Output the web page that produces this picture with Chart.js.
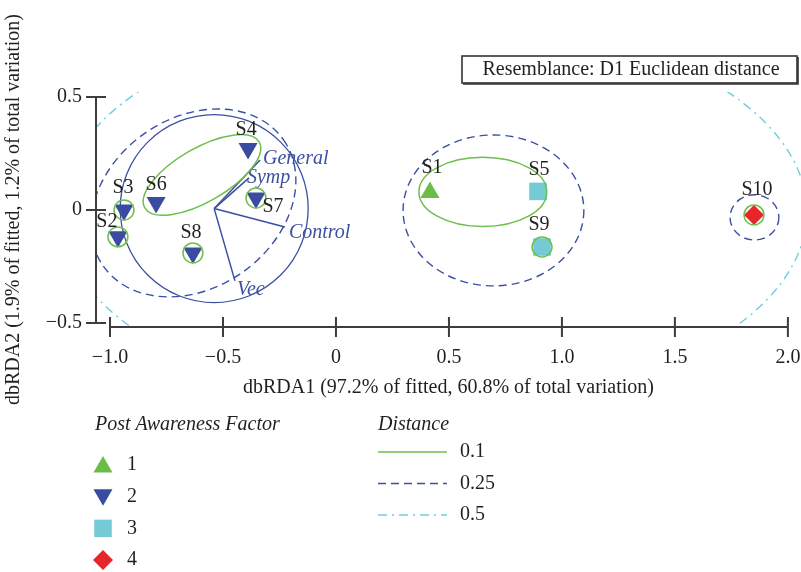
<!DOCTYPE html>
<html>
<head>
<meta charset="utf-8">
<script src="https://cdn.jsdelivr.net/npm/chart.js@4.4.0/dist/chart.umd.min.js"></script>
<style>
  html, body { margin: 0; padding: 0; background: #fff; }
  #wrap { width: 801px; height: 572px; }
</style>
</head>
<body>
<div id="wrap"><canvas id="rdaChart" width="801" height="572"></canvas></div>
<script>
// sample scores (dbRDA1, dbRDA2) and their post awareness factor level
let sampleNames = ['S1', 'S2', 'S3', 'S4', 'S5', 'S6', 'S7', 'S8', 'S9', 'S10'];
let dbRDA1 = [0.416, -0.965, -0.938, -0.389, 0.894, -0.796, -0.354, -0.633, 0.912, 1.850];
let dbRDA2 = [0.077, -0.119, 0.000, 0.272, 0.082, 0.033, 0.053, -0.190, -0.164, -0.022];
let awareness = ['1', '2', '2', '2', '3', '2', '2', '2', '3', '4'];
let factorLevels = ['1', '2', '3', '4'];

// predictor vectors, drawn from the centre of the correlation circle
let vectorNames = ['General', 'Symp', 'Control', 'Vec'];
let vectorX = [-0.336, -0.385, -0.226, -0.447];
let vectorY = [0.221, 0.142, -0.075, -0.314];
let vectorOrigin = [-0.539, 0.006];
let circleRadius = 0.416;

// distance contours (cluster overlays)
let distanceLevels = ['0.1', '0.25', '0.5'];
let contourLevel = ['0.1', '0.1', '0.25', '0.25', '0.25', '0.5'];
let contourX = [-0.593, 0.650, -0.631, 0.697, 1.852, 0.429];
let contourY = [0.155, 0.080, 0.031, -0.002, -0.033, -0.009];
let contourRX = [0.292, 0.283, 0.487, 0.400, 0.108, 1.655];
let contourRY = [0.119, 0.153, 0.376, 0.334, 0.100, 0.863];
let contourTilt = [30, 0, 35, 0, 0, 0];
let singleSamples = ['S2', 'S3', 'S7', 'S8', 'S9', 'S10'];
let singleRadius = 0.044;

let xTitle = 'dbRDA1 (97.2% of fitted, 60.8% of total variation)';
let yTitle = 'dbRDA2 (1.9% of fitted, 1.2% of total variation)';
let boxTitle = 'Resemblance: D1 Euclidean distance';

const FONT = "'Liberation Serif', 'Times New Roman', serif";
const INK = '#231f20';
const BLUE = '#3b50a3';

const markerStyle = {
    '1': { shape: 'triangle', rotation: 0, radius: 11, color: '#6bbd46' },
    '2': { shape: 'triangle', rotation: 180, radius: 11, color: '#3a4c9f' },
    '3': { shape: 'rect', rotation: 0, radius: 12.4, color: '#74cbd6' },
    '4': { shape: 'rectRot', rotation: 0, radius: 10, color: '#e8262a' }
};

const levelStyle = {
    '0.1': { color: '#6dbf4b', dash: [], width: 1.5 },
    '0.25': { color: '#3b50a3', dash: [8, 5], width: 1.4 },
    '0.5': { color: '#6fcfdc', dash: [9, 5, 2, 5], width: 1.4 }
};

// where each sample name sits relative to its marker (px)
const labelOffset = {
    S1: [2, -25], S2: [-11, -15], S3: [-1, -22], S4: [-2, -19], S5: [1, -22],
    S6: [0, -18], S7: [17, 9], S8: [-2, -20], S9: [-3, -22], S10: [3, -25]
};
const vectorLabelOffset = [[3, -1], [-2, 0], [4, 6], [2, 9]];

function fmtTick(v) {
    if (Math.abs(v) < 1e-9) return '0';
    return v.toFixed(1).replace('-', '\u2212');
}

function markerPoint(ctx, level, x, y) {
    const st = markerStyle[level];
    ctx.fillStyle = st.color;
    Chart.helpers.drawPoint(ctx, { pointStyle: st.shape, rotation: st.rotation, radius: st.radius, borderWidth: 0 }, x, y);
}

function strokeEllipse(ctx, xs, ys, cx, cy, rx, ry, tilt) {
    const px = xs.getPixelForValue(cx);
    const py = ys.getPixelForValue(cy);
    const prx = Math.abs(xs.getPixelForValue(cx + rx) - px);
    const pry = Math.abs(ys.getPixelForValue(cy + ry) - py);
    ctx.beginPath();
    ctx.ellipse(px, py, prx, pry, -tilt * Math.PI / 180, 0, Math.PI * 2);
    ctx.stroke();
}

function setLevel(ctx, level) {
    const st = levelStyle[level];
    ctx.strokeStyle = st.color;
    ctx.lineWidth = st.width;
    ctx.setLineDash(st.dash);
}

const overlays = {
    id: 'overlays',
    afterDatasetsDraw(chart) {
        const ctx = chart.ctx;
        const xs = chart.scales.x, ys = chart.scales.y;
        const area = chart.chartArea;
        ctx.save();
        ctx.beginPath();
        ctx.rect(area.left, area.top, area.right - area.left, area.bottom - area.top);
        ctx.clip();

        // correlation circle and vectors
        ctx.strokeStyle = BLUE;
        ctx.lineWidth = 1.3;
        ctx.setLineDash([]);
        strokeEllipse(ctx, xs, ys, vectorOrigin[0], vectorOrigin[1], circleRadius, circleRadius, 0);
        const ox = xs.getPixelForValue(vectorOrigin[0]);
        const oy = ys.getPixelForValue(vectorOrigin[1]);
        ctx.lineWidth = 1.5;
        ctx.font = 'italic 20px ' + FONT;
        ctx.fillStyle = BLUE;
        ctx.textAlign = 'left';
        ctx.textBaseline = 'middle';
        vectorNames.forEach((name, i) => {
            const ex = xs.getPixelForValue(vectorX[i]);
            const ey = ys.getPixelForValue(vectorY[i]);
            ctx.beginPath();
            ctx.moveTo(ox, oy);
            ctx.lineTo(ex, ey);
            ctx.stroke();
            ctx.fillText(name, ex + vectorLabelOffset[i][0], ey + vectorLabelOffset[i][1]);
        });

        // contours
        contourLevel.forEach((level, i) => {
            setLevel(ctx, level);
            strokeEllipse(ctx, xs, ys, contourX[i], contourY[i], contourRX[i], contourRY[i], contourTilt[i]);
        });
        setLevel(ctx, '0.1');
        singleSamples.forEach(name => {
            const i = sampleNames.indexOf(name);
            strokeEllipse(ctx, xs, ys, dbRDA1[i], dbRDA2[i], singleRadius, singleRadius, 0);
        });
        ctx.setLineDash([]);

        // sample names
        ctx.font = '20px ' + FONT;
        ctx.fillStyle = INK;
        ctx.textAlign = 'center';
        sampleNames.forEach((name, i) => {
            const off = labelOffset[name];
            ctx.fillText(name, xs.getPixelForValue(dbRDA1[i]) + off[0], ys.getPixelForValue(dbRDA2[i]) + off[1]);
        });
        ctx.restore();
    },
    afterDraw(chart) {
        const ctx = chart.ctx;
        const xs = chart.scales.x, ys = chart.scales.y;
        const area = chart.chartArea;
        ctx.save();

        // offset axis lines with crossing ticks
        ctx.strokeStyle = '#3d3d3d';
        ctx.lineWidth = 2;
        const yt = ys.ticks.map(t => ys.getPixelForValue(t.value));
        const xt = xs.ticks.map(t => xs.getPixelForValue(t.value));
        ctx.beginPath();
        ctx.moveTo(area.left, Math.min(...yt));
        ctx.lineTo(area.left, Math.max(...yt));
        yt.forEach(p => { ctx.moveTo(area.left - 10, p); ctx.lineTo(area.left + 10, p); });
        ctx.moveTo(Math.min(...xt), area.bottom);
        ctx.lineTo(Math.max(...xt), area.bottom);
        xt.forEach(p => { ctx.moveTo(p, area.bottom - 10); ctx.lineTo(p, area.bottom + 10); });
        ctx.stroke();

        // resemblance box
        ctx.lineWidth = 1.6;
        ctx.strokeStyle = '#333';
        ctx.strokeRect(462, 56, 335, 27);
        ctx.beginPath();
        ctx.moveTo(463, 84);
        ctx.lineTo(798, 84);
        ctx.lineTo(798, 57);
        ctx.stroke();
        ctx.font = '20px ' + FONT;
        ctx.fillStyle = INK;
        ctx.textAlign = 'center';
        ctx.textBaseline = 'middle';
        ctx.fillText(boxTitle, 631, 70);

        // legend: factor markers
        ctx.textAlign = 'left';
        ctx.font = 'italic 20px ' + FONT;
        ctx.fillText('Post Awareness Factor', 95, 425);
        ctx.fillText('Distance', 378, 425);
        ctx.font = '20px ' + FONT;
        factorLevels.forEach((level, i) => {
            const y = 465 + i * 31.7;
            markerPoint(ctx, level, 103, level === '1' ? y + 2 : (level === '2' ? y - 2 : y));
            ctx.fillStyle = INK;
            ctx.fillText(level, 127, y);
        });
        // legend: distance lines
        distanceLevels.forEach((level, i) => {
            const y = 452 + i * 31.5;
            setLevel(ctx, level);
            ctx.beginPath();
            ctx.moveTo(378, y);
            ctx.lineTo(447, y);
            ctx.stroke();
            ctx.fillStyle = INK;
            ctx.fillText(level, 460, y);
        });
        ctx.restore();
    }
};

const datasets = factorLevels.map(level => {
    const st = markerStyle[level];
    const idx = sampleNames.map((n, i) => i).filter(i => awareness[i] === level);
    return {
        label: level,
        data: idx.map(i => ({ x: dbRDA1[i], y: dbRDA2[i] })),
        pointStyle: st.shape,
        pointRotation: st.rotation,
        pointRadius: st.radius,
        pointHoverRadius: st.radius,
        backgroundColor: st.color,
        borderColor: st.color,
        pointBorderWidth: 0,
        clip: false
    };
});

Chart.defaults.font.family = FONT;
Chart.defaults.font.size = 20;
Chart.defaults.color = INK;

new Chart(document.getElementById('rdaChart'), {
    type: 'scatter',
    data: { datasets },
    options: {
        responsive: false,
        animation: false,
        devicePixelRatio: 1,
        // no auto padding for the big markers, so the plot runs to the right edge
        layout: { autoPadding: false, padding: { top: 92, left: 0, right: 0, bottom: 172 } },
        plugins: { legend: { display: false }, tooltip: { enabled: false } },
        scales: {
            x: {
                type: 'linear',
                min: -1.062,
                max: 2.058,
                // tick marks are drawn by the plugin; tickLength only spaces the labels
                grid: { display: false, drawTicks: true, tickLength: 19 },
                border: { display: false },
                ticks: { stepSize: 0.5, includeBounds: false, padding: 0, maxRotation: 0, autoSkip: false, callback: fmtTick },
                title: { display: true, text: xTitle, padding: { top: 0, bottom: 0 } },
                afterFit: s => { s.height = 73; }
            },
            y: {
                type: 'linear',
                min: -0.518,
                max: 0.522,
                grid: { display: false, drawTicks: false },
                border: { display: false },
                ticks: { stepSize: 0.5, includeBounds: false, padding: 14, callback: fmtTick },
                title: { display: true, text: yTitle, padding: { top: 2, bottom: 0 } },
                afterFit: s => { s.width = 96; }
            }
        }
    },
    plugins: [overlays]
});
</script>
</body>
</html>
